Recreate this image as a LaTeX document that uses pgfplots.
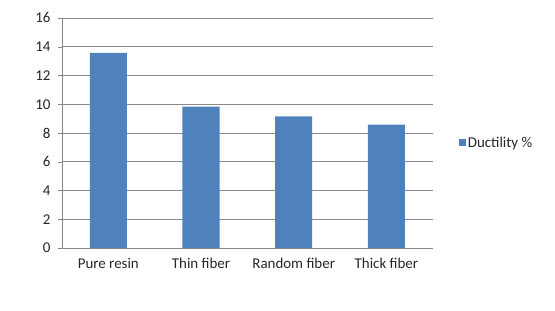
\documentclass[border=0pt]{standalone}
\usepackage{pgfplots}
\pgfplotsset{compat=1.18}
\usepackage{fontspec}
\setmainfont{Carlito}
\definecolor{barblue}{HTML}{4F81BD}
\definecolor{gridgray}{HTML}{888888}
\begin{document}
\begin{tikzpicture}
\begin{axis}[
  scale only axis,
  width=370.7bp, height=230bp,
  at={(0,0)}, anchor=south west,
  xmin=-0.5, xmax=3.5,
  ymin=0, ymax=16,
  ytick={0,2,...,16},
  xtick={0,1,2,3},
  xticklabels={Pure resin,Thin fiber,Random fiber,Thick fiber},
  extra x ticks={-0.5,0.5,1.5,2.5,3.5},
  extra x tick labels={},
  extra x tick style={major tick length=4bp, tick style={draw=gridgray}, grid=none},
  x tick style={draw=none},
  y tick style={draw=gridgray},
  major tick length=4bp,
  tick align=outside,
  axis x line*=bottom, axis y line*=left,
  axis line style={draw=gridgray, -},
  ymajorgrids,
  grid style={draw=gridgray, line width=0.6pt},
  tick label style={font=\fontsize{15}{17}\selectfont, text=black!85},
  yticklabel style={xshift=-4bp},
  xticklabel style={yshift=-3bp},
  /pgf/number format/assume math mode=true,
  legend style={draw=none, fill=none, at={(1.062,0.457)}, anchor=west,
    font=\fontsize{15}{17}\selectfont, text=black!85},
  legend image code/.code={\fill[barblue] (0bp,-3.5bp) rectangle (7bp,3.5bp);},
]
\addplot[ybar, bar width=0.4, fill=barblue, draw=none] coordinates {
  (0,13.58) (1,9.84) (2,9.16) (3,8.58)
};
\addlegendentry{Ductility \%}
\end{axis}
\path (-62bp,-63bp) rectangle (493bp,248bp);
\end{tikzpicture}
\end{document}
